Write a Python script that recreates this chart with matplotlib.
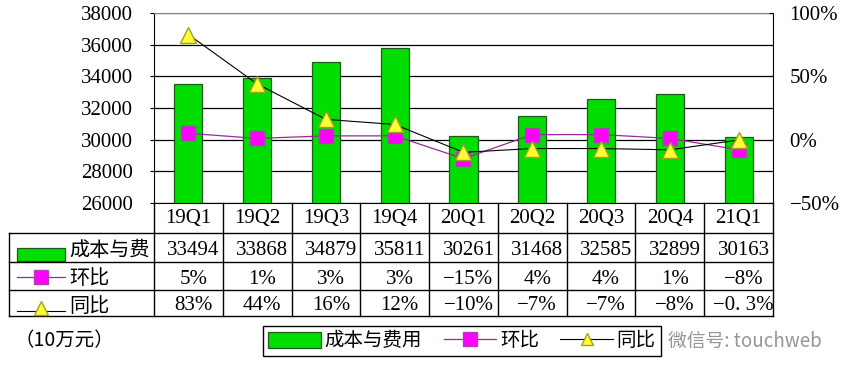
import matplotlib
matplotlib.use("Agg")
import matplotlib.pyplot as plt
from matplotlib.lines import Line2D
from matplotlib.patches import Patch, Rectangle
import numpy as np

# data
quarters = ["19Q1", "19Q2", "19Q3", "19Q4", "20Q1", "20Q2", "20Q3", "20Q4", "21Q1"]
cost = [33494, 33868, 34879, 35811, 30261, 31468, 32585, 32899, 30163]
qoq = [5, 1, 3, 3, -15, 4, 4, 1, -8]          # 环比 %
yoy = [83, 44, 16, 12, -10, -7, -7, -8, -0.3]  # 同比 %
qoq_text = ["5%", "1%", "3%", "3%", "−15%", "4%", "4%", "1%", "−8%"]
yoy_text = ["83%", "44%", "16%", "12%", "−10%", "−7%", "−7%", "−8%", "−0. 3%"]

GREEN = "#00dd00"
MAGENTA = "#ff00ff"
YELLOW = "#ffff33"
CJK = ["Noto Sans CJK SC", "DejaVu Sans"]
NUM = ["Liberation Serif", "Noto Sans CJK SC"]

W, H = 850, 376
fig = plt.figure(figsize=(W / 100, H / 100), dpi=100)

# plot area in pixels
px0, px1, py0, py1 = 154, 773, 13, 203
ax = fig.add_axes([px0 / W, 1 - py1 / H, (px1 - px0) / W, (py1 - py0) / H])
x = np.arange(len(quarters))
ax.bar(x, cost, width=0.41, color=GREEN, edgecolor="#1d5a1d", linewidth=0.9, zorder=2)
ax.set_xlim(-0.5, len(quarters) - 0.5)
ax.set_ylim(26000, 38000)
ax.set_yticks(range(26000, 38001, 2000))
ax.set_axisbelow(True)
ax.grid(axis="y", color="black", linewidth=0.9)
ax.set_xticks([])
ax.spines["top"].set_color("#888888")
for s in ["left", "right", "bottom"]:
    ax.spines[s].set_color("black")
ax.tick_params(axis="y", length=3, pad=12, labelsize=15)
for t in ax.get_yticklabels():
    t.set_fontfamily(NUM)

ax2 = ax.twinx()
ax2.set_ylim(-50, 100)
ax2.set_yticks([-50, 0, 50, 100])
ax2.set_yticklabels(["−50%", "0%", "50%", "100%"])
ax2.tick_params(axis="y", length=3, pad=12, labelsize=15, direction="in")
for t in ax2.get_yticklabels():
    t.set_fontfamily(NUM)
ax2.plot(x, qoq, color="#9a2a9a", linewidth=0.9, marker="s", markersize=9.5,
         markerfacecolor=MAGENTA, markeredgecolor="#b040b0", zorder=3)
ax2.plot(x, yoy, color="black", linewidth=0.8, marker="^", markersize=11,
         markerfacecolor=YELLOW, markeredgecolor="#a0a020", zorder=4)
for s in ax2.spines.values():
    s.set_visible(False)

# data table drawn on a pixel overlay
tab = fig.add_axes([0, 0, 1, 1])
tab.set_xlim(0, W)
tab.set_ylim(H, 0)
tab.axis("off")
cw = (px1 - px0) / len(quarters)
rows = [203, 233, 262, 290, 316]
tx0 = 9
for y in rows[1:]:
    tab.plot([tx0, px1], [y, y], color="black", linewidth=1)
tab.plot([tx0, tx0], [rows[1], rows[-1]], color="black", linewidth=1)
for i in range(len(quarters) + 1):
    xx = px0 + i * cw
    tab.plot([xx, xx], [rows[0], rows[-1]], color="black", linewidth=1)

for i, q in enumerate(quarters):
    cx = px0 + (i + 0.5) * cw
    tab.text(cx, (rows[0] + rows[1]) / 2, q, ha="center", va="center",
             fontsize=15, family=NUM)
    tab.text(cx + 5, (rows[1] + rows[2]) / 2 + 3, str(cost[i]), ha="center",
             va="center", fontsize=15, family=NUM)
    tab.text(cx + 5, (rows[2] + rows[3]) / 2 + 3, qoq_text[i], ha="center",
             va="center", fontsize=15, family=NUM)
    tab.text(cx + 5, (rows[3] + rows[4]) / 2 + 3, yoy_text[i], ha="center",
             va="center", fontsize=15, family=NUM)

# row headers with their legend keys
tab.add_patch(Rectangle((17, 248), 48, 13, facecolor=GREEN, edgecolor="#1d5a1d", linewidth=0.9))
tab.text(69, 250, "成本与费", ha="left", va="center", fontsize=14.5, family=CJK)
tab.plot([17, 65], [277, 277], color="#9a2a9a", linewidth=0.9)
tab.plot([41], [277], marker="s", markersize=9.5, markerfacecolor=MAGENTA,
         markeredgecolor="#b040b0", linestyle="none")
tab.text(69, 279, "环比", ha="left", va="center", fontsize=14.5, family=CJK)
tab.plot([17, 65], [311, 311], color="black", linewidth=0.8)
tab.plot([41], [308], marker="^", markersize=10, markerfacecolor=YELLOW,
         markeredgecolor="#a0a020", linestyle="none", clip_on=False)
tab.text(69, 306, "同比", ha="left", va="center", fontsize=14.5, family=CJK)

tab.text(14, 341, "（10万元）", ha="left", va="center", fontsize=14, family=CJK)

# legend
handles = [
    Patch(facecolor=GREEN, edgecolor="#1d5a1d", linewidth=0.9),
    Line2D([], [], color="#9a2a9a", linewidth=0.9, marker="s", markersize=9.5,
           markerfacecolor=MAGENTA, markeredgecolor="#b040b0"),
    Line2D([], [], color="black", linewidth=0.8, marker="^", markersize=9,
           markerfacecolor=YELLOW, markeredgecolor="#a0a020"),
]
leg = fig.legend(handles, ["成本与费用", "环比", "同比"], loc="center",
                 bbox_to_anchor=(462 / W, 1 - 341 / H), ncol=3, frameon=True,
                 fancybox=False, edgecolor="black", framealpha=1,
                 prop={"family": CJK, "size": 14}, handlelength=2.7,
                 handleheight=0.9, handletextpad=0.2, columnspacing=1.1,
                 borderpad=0.25, borderaxespad=0)
leg.get_frame().set_linewidth(1)

# watermark
fig.text(668 / W, 1 - 341 / H, "微信号: touchweb", ha="left", va="center",
         fontsize=13.5, color="#8a8a8a", family=CJK, alpha=0.9)

fig.savefig("out.png", dpi=100, facecolor="white")
